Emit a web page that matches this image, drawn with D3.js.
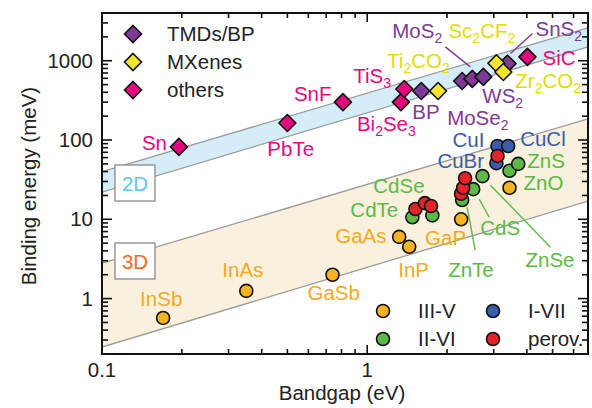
<!DOCTYPE html>
<html lang="en">
<head>
    <meta charset="UTF-8">
    <title>Binding energy vs bandgap</title>
    <style>
        body { margin: 0; background: #fff; }
        svg text { font-family: "Liberation Sans", Arial, Helvetica, sans-serif; }
    </style>
    <script src="https://cdn.jsdelivr.net/npm/d3@7"></script>
</head>
<body>
<svg width="592" height="408"></svg>

<script>
    // 2D materials (diamonds): name, bandgap (eV), binding energy (meV), group
    const names2D = ["Sn", "PbTe", "SnF", "Bi_2Se_3", "TiS_3", "BP", "MoSe_2", "MoS_2", "WS_2", "SnS_2",
        "Ti_2CO_2", "Sc_2CF_2", "Zr_2CO_2", "SiC"];
    const gap2D = [0.195, 0.50, 0.81, 1.34, 1.38, 1.60, 2.28, 2.49, 2.74, 3.38, 1.85, 3.07, 3.26, 4.02];
    const eb2D = [82, 164, 300, 300, 440, 415, 555, 590, 625, 920, 415, 930, 720, 1120];
    const group2D = ["others", "others", "others", "others", "others", "TMDs/BP", "TMDs/BP", "TMDs/BP", "TMDs/BP",
        "TMDs/BP", "MXenes", "MXenes", "MXenes", "others"];

    // 3D materials (circles)
    const names3D = ["InSb", "InAs", "GaSb", "GaAs", "InP", "GaP", "GaN",
        "CdTe", "CdSe", "ZnTe", "CdS", "ZnSe", "ZnO", "ZnS",
        "CuI", "CuCl", "CuBr",
        "p1", "p2", "p3", "p4", "p5", "p6", "p7"];
    const gap3D = [0.17, 0.35, 0.74, 1.32, 1.44, 2.26, 3.44,
        1.48, 1.76, 2.28, 2.51, 2.72, 3.44, 3.71,
        3.10, 3.40, 3.07,
        1.52, 1.65, 1.74, 2.26, 2.30, 2.34, 3.10];
    const eb3D = [0.57, 1.25, 2.0, 6.0, 4.5, 10, 25,
        10.6, 11.2, 17.5, 24, 35, 41, 50,
        84, 84, 51,
        13.5, 16, 14.7, 21, 25, 33, 63];
    const group3D = ["III-V", "III-V", "III-V", "III-V", "III-V", "III-V", "III-V",
        "II-VI", "II-VI", "II-VI", "II-VI", "II-VI", "II-VI", "II-VI",
        "I-VII", "I-VII", "I-VII",
        "perov.", "perov.", "perov.", "perov.", "perov.", "perov.", "perov."];

    // shaded bands: edges at the two ends of the bandgap range
    const bandGap = [0.1, 6.8];
    const band2DLow = [22, 1500];
    const band2DHigh = [40, 2600];
    const band3DLow = [0.245, 17];
    const band3DHigh = [2.8, 185];

    const groups2D = ["TMDs/BP", "MXenes", "others"];
    const groups3D = ["III-V", "I-VII", "II-VI", "perov."];
    const xTickLabels = [0.1, 1];
    const yTickLabels = [1, 10, 100, 1000];

    const colors = {
        "TMDs/BP": "#7e3a96", "MXenes": "#f2e62c", "others": "#e5087f",
        "III-V": "#f4b321", "II-VI": "#5cb947", "I-VII": "#3a5dab", "perov.": "#e5222b"
    };
    const textColors = {
        "TMDs/BP": "#7e3a96", "MXenes": "#e2dc00", "others": "#e5087f",
        "III-V": "#f5a91d", "II-VI": "#5cb947", "I-VII": "#3a5dab", "perov.": "#e5222b"
    };

    // label placement: offset of the text start from its point, in px
    const labelOffset = {
        "Sn": [-37, 3], "PbTe": [-20, 33], "SnF": [-49, -1], "Bi_2Se_3": [-44, 29], "TiS_3": [-51, -6],
        "BP": [-9, 28], "MoSe_2": [-15, 44], "MoS_2": [-80, -41], "WS_2": [-1, 26], "SnS_2": [28, -28],
        "Ti_2CO_2": [-51, -23], "Sc_2CF_2": [-48, -25], "Zr_2CO_2": [12, 16], "SiC": [15, 8],
        "InSb": [-23, -12], "InAs": [-24, -14], "GaSb": [-25, 25], "GaAs": [-64, 6], "InP": [-11, 30],
        "GaP": [-36, 26], "CdTe": [-62, 0], "CdSe": [-59, -22], "ZnTe": [-14, 77], "CdS": [7, 46],
        "ZnSe": [43, 91], "ZnO": [14, 19], "ZnS": [9, 4], "CuI": [-45, 1], "CuCl": [12, 0], "CuBr": [-59, 5]
    };
    const leaders = {
        "MoS_2": [-27, -32, -2, -12], "SnS_2": [25, -30, 3, -10],
        "ZnTe": [5, 7, 13, 50], "CdS": [6, 10, 16, 28], "ZnSe": [8, 9, 68, 71]
    };

    let svg = d3.select("svg");
    const pLeft = 102, pRight = 588, pTop = 13, pBottom = 354;
    const fs = 20.5;

    let x = d3.scaleLog().domain([0.1, 6.8]).range([pLeft, pRight]);
    let y = d3.scaleLog().domain([0.2, 4000]).range([pBottom, pTop]);

    svg.append("clipPath").attr("id", "plot")
        .append("rect").attr("x", pLeft).attr("y", pTop).attr("width", pRight - pLeft).attr("height", pBottom - pTop);

    let bands = svg.append("g").attr("clip-path", "url(#plot)");

    function drawBand(low, high, fill) {
        let pts = [[bandGap[0], low[0]], [bandGap[1], low[1]], [bandGap[1], high[1]], [bandGap[0], high[0]]];
        bands.append("path")
            .attr("d", "M" + pts.map(p => [x(p[0]), y(p[1])].join(",")).join("L") + "Z")
            .attr("fill", fill);
        [low, high].forEach(function (edge) {
            bands.append("line")
                .attr("x1", x(bandGap[0])).attr("y1", y(edge[0]))
                .attr("x2", x(bandGap[1])).attr("y2", y(edge[1]))
                .attr("stroke", "#9b9b9b").attr("stroke-width", 1.3);
        });
    }
    drawBand(band2DLow, band2DHigh, "#d5edf8");
    drawBand(band3DLow, band3DHigh, "#f9f1dd");

    // ticks on all four sides, pointing inward
    function isMajor(t) {
        let l = Math.log10(t);
        return Math.abs(l - Math.round(l)) < 1e-6;
    }
    let ticks = svg.append("g").attr("stroke", "#111").attr("stroke-width", 1.6);
    x.ticks().forEach(function (t) {
        let len = isMajor(t) ? 9 : 5;
        ticks.append("line").attr("x1", x(t)).attr("x2", x(t)).attr("y1", pBottom).attr("y2", pBottom - len);
        ticks.append("line").attr("x1", x(t)).attr("x2", x(t)).attr("y1", pTop).attr("y2", pTop + len);
    });
    y.ticks().forEach(function (t) {
        let len = isMajor(t) ? 10 : 6;
        ticks.append("line").attr("y1", y(t)).attr("y2", y(t)).attr("x1", pLeft).attr("x2", pLeft + len);
        ticks.append("line").attr("y1", y(t)).attr("y2", y(t)).attr("x1", pRight).attr("x2", pRight - len);
    });
    svg.append("rect").attr("x", pLeft).attr("y", pTop).attr("width", pRight - pLeft).attr("height", pBottom - pTop)
        .attr("fill", "none").attr("stroke", "#111").attr("stroke-width", 2);

    svg.selectAll(".xlab").data(xTickLabels).enter().append("text")
        .attr("x", d => x(d)).attr("y", pBottom + 23).attr("text-anchor", "middle")
        .attr("font-size", fs).attr("fill", "#222").text(d => d);
    svg.selectAll(".ylab").data(yTickLabels).enter().append("text")
        .attr("x", pLeft - 9).attr("y", d => y(d) + 7).attr("text-anchor", "end")
        .attr("font-size", fs).attr("fill", "#222").text(d => d);

    svg.append("text").attr("x", 342).attr("y", 400).attr("text-anchor", "middle")
        .attr("font-size", fs).attr("fill", "#222").text("Bandgap (eV)");
    svg.append("text").attr("transform", "translate(36,186)rotate(-90)").attr("text-anchor", "middle")
        .attr("font-size", fs).attr("fill", "#222").text("Binding energy (meV)");

    // 2D / 3D boxes
    [["2D", 165, "#5cc7e8"], ["3D", 243, "#f26a22"]].forEach(function (b) {
        svg.append("rect").attr("x", 115).attr("y", b[1]).attr("width", 40).attr("height", 36)
            .attr("fill", "#fff").attr("stroke", "#8a8a8a").attr("stroke-width", 1.3);
        svg.append("text").attr("x", 135).attr("y", b[1] + 26).attr("text-anchor", "middle")
            .attr("font-size", fs).attr("fill", b[2]).text(b[0]);
    });

    // "MoS_2" -> MoS with subscript 2
    function label(sel, str) {
        let shift = 0;
        str.split(/(_\d)/).filter(s => s.length).forEach(function (part) {
            if (part[0] === "_") {
                sel.append("tspan").attr("font-size", 14).attr("dy", 5 - shift).text(part.slice(1));
                shift = 5;
            } else {
                sel.append("tspan").attr("dy", -shift).text(part);
                shift = 0;
            }
        });
    }

    const diamond = "M0,-8.5L8.5,0L0,8.5L-8.5,0Z";

    let pts2D = names2D.map((n, i) => ({name: n, gap: gap2D[i], eb: eb2D[i], group: group2D[i]}));
    let pts3D = names3D.map((n, i) => ({name: n, gap: gap3D[i], eb: eb3D[i], group: group3D[i]}));
    let order2D = ["others", "TMDs/BP", "MXenes"];
    let order3D = ["III-V", "II-VI", "I-VII", "perov."];

    // leader lines
    let lead = svg.append("g");
    pts2D.concat(pts3D).filter(d => leaders[d.name]).forEach(function (d) {
        let l = leaders[d.name];
        lead.append("line")
            .attr("x1", x(d.gap) + l[0]).attr("y1", y(d.eb) + l[1])
            .attr("x2", x(d.gap) + l[2]).attr("y2", y(d.eb) + l[3])
            .attr("stroke", textColors[d.group]).attr("stroke-width", 1.4);
    });

    svg.append("g").selectAll("path")
        .data(pts2D.slice().sort((a, b) => order2D.indexOf(a.group) - order2D.indexOf(b.group)))
        .enter().append("path")
        .attr("d", diamond)
        .attr("transform", d => `translate(${x(d.gap)},${y(d.eb)})`)
        .attr("fill", d => colors[d.group])
        .attr("stroke", "#111").attr("stroke-width", 1.6).attr("stroke-linejoin", "round");

    svg.append("g").selectAll("circle")
        .data(pts3D.slice().sort((a, b) => order3D.indexOf(a.group) - order3D.indexOf(b.group)))
        .enter().append("circle")
        .attr("cx", d => x(d.gap)).attr("cy", d => y(d.eb)).attr("r", 6.5)
        .attr("fill", d => colors[d.group])
        .attr("stroke", "#111").attr("stroke-width", 1.6);

    let labels = svg.append("g").attr("font-size", fs);
    pts2D.concat(pts3D).filter(d => labelOffset[d.name]).forEach(function (d) {
        let o = labelOffset[d.name];
        let t = labels.append("text")
            .attr("x", x(d.gap) + o[0]).attr("y", y(d.eb) + o[1])
            .attr("fill", textColors[d.group]);
        label(t, d.name);
    });

    // legends
    let leg2D = svg.append("g");
    groups2D.forEach(function (g, i) {
        leg2D.append("path").attr("d", diamond)
            .attr("transform", `translate(133,${34 + i * 28})`)
            .attr("fill", colors[g]).attr("stroke", "#111").attr("stroke-width", 1.6);
        leg2D.append("text").attr("x", 167).attr("y", 41 + i * 28)
            .attr("font-size", fs).attr("fill", "#222").text(g);
    });

    let leg3D = svg.append("g");
    groups3D.forEach(function (g, i) {
        let cx = i % 2 === 0 ? 383 : 493;
        let cy = i < 2 ? 311 : 339;
        leg3D.append("circle").attr("cx", cx).attr("cy", cy).attr("r", 6.5)
            .attr("fill", colors[g]).attr("stroke", "#111").attr("stroke-width", 1.6);
        leg3D.append("text").attr("x", cx + 35).attr("y", cy + 7)
            .attr("font-size", fs).attr("fill", "#222").text(g);
    });
</script>
</body>
</html>
